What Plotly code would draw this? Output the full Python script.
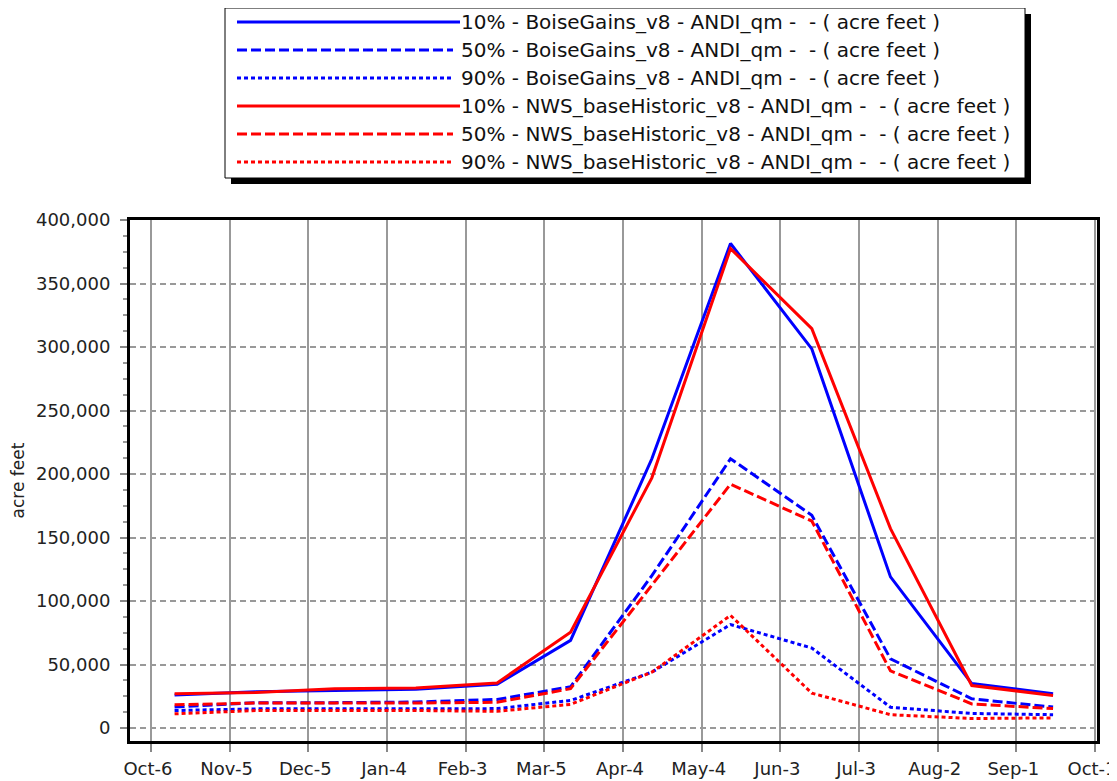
import plotly.graph_objects as go

# ---------------- data ----------------
dates = ["2022-10-15", "2022-11-15", "2022-12-15", "2023-01-15", "2023-02-15", "2023-03-15",
         "2023-04-15", "2023-05-15", "2023-06-15", "2023-07-15", "2023-08-15", "2023-09-15"]

tick_dates = ["2022-10-06", "2022-11-05", "2022-12-05", "2023-01-04", "2023-02-03", "2023-03-05",
              "2023-04-04", "2023-05-04", "2023-06-03", "2023-07-03", "2023-08-02", "2023-09-01",
              "2023-10-01"]
tick_labels = ["Oct-6", "Nov-5", "Dec-5", "Jan-4", "Feb-3", "Mar-5", "Apr-4", "May-4",
               "Jun-3", "Jul-3", "Aug-2", "Sep-1", "Oct-1"]

boise_10 = [26000, 28500, 29500, 30500, 34500, 69000, 212000, 381500, 298500, 119000, 35000, 27000]
boise_50 = [16500, 20000, 20000, 20500, 22500, 32500, 120000, 212000, 167500, 54500, 23000, 16500]
boise_90 = [13800, 15100, 15100, 15100, 15300, 21700, 44000, 81500, 63000, 16400, 11500, 10500]
nws_10 = [27000, 28000, 31000, 31500, 35500, 75500, 197000, 377500, 314500, 157000, 33500, 25700]
nws_50 = [18300, 19700, 19700, 19700, 20300, 31000, 112500, 192000, 163000, 45000, 19000, 15300]
nws_90 = [11200, 13800, 13800, 13800, 13200, 18600, 44000, 88700, 27500, 10500, 7500, 8000]

series_names = [
    "10% - BoiseGains_v8 - ANDI_qm -  - ( acre feet )",
    "50% - BoiseGains_v8 - ANDI_qm -  - ( acre feet )",
    "90% - BoiseGains_v8 - ANDI_qm -  - ( acre feet )",
    "10% - NWS_baseHistoric_v8 - ANDI_qm -  - ( acre feet )",
    "50% - NWS_baseHistoric_v8 - ANDI_qm -  - ( acre feet )",
    "90% - NWS_baseHistoric_v8 - ANDI_qm -  - ( acre feet )",
]
series_values = [boise_10, boise_50, boise_90, nws_10, nws_50, nws_90]
series_colors = ["#0000FF", "#0000FF", "#0000FF", "#FF0000", "#FF0000", "#FF0000"]
series_dash = ["solid", "10px,4px", "4px,3px", "solid", "10px,4px", "4px,3px"]

# page body adds an 8px offset; figure is sized so the window shows it fully
OFF = 8
WIN_W, WIN_H = 1117, 781
W, H = WIN_W - OFF, WIN_H - OFF
PLOT_L, PLOT_R, PLOT_T, PLOT_B = 130, 1097, 220, 741   # window pixel coords
ML, MR, MT, MB = PLOT_L - OFF, WIN_W - PLOT_R, PLOT_T - OFF, WIN_H - PLOT_B
PW, PH = PLOT_R - PLOT_L, PLOT_B - PLOT_T


def px_x(x):
    return (x - PLOT_L) / PW


def px_y(y):
    return (PLOT_B - y) / PH


FONT = "DejaVu Sans"

fig = go.Figure()
for name, vals, col, dash in zip(series_names, series_values, series_colors, series_dash):
    fig.add_trace(go.Scatter(
        x=dates, y=vals, mode="lines", name=name, showlegend=False,
        line=dict(color=col, dash=dash, width=3),
    ))

# ---------------- manual legend ----------------
shapes = []
annotations = []
shapes.append(dict(type="rect", xref="paper", yref="paper",
                   x0=px_x(231), x1=px_x(1031), y0=px_y(184), y1=px_y(14),
                   fillcolor="black", line=dict(color="black", width=0), layer="above"))
shapes.append(dict(type="rect", xref="paper", yref="paper",
                   x0=px_x(225), x1=px_x(1025), y0=px_y(178), y1=px_y(8),
                   fillcolor="white", line=dict(color="black", width=1), layer="above"))
for i, (name, col, dash) in enumerate(zip(series_names, series_colors, series_dash)):
    yy = 22 + 28 * i
    shapes.append(dict(type="line", xref="paper", yref="paper",
                       x0=px_x(237), x1=px_x(460 if dash == "solid" else 453),
                       y0=px_y(yy), y1=px_y(yy),
                       line=dict(color=col, dash=dash, width=3), layer="above"))
    annotations.append(dict(xref="paper", yref="paper", x=px_x(460), y=px_y(yy),
                            xanchor="left", yanchor="middle", text=name, showarrow=False,
                            borderpad=0,
                            font=dict(family=FONT, size=20, color="#111")))

fig.update_layout(
    width=W, height=H,
    margin=dict(l=ML, r=MR, t=MT, b=MB, pad=0, autoexpand=False),
    paper_bgcolor="white", plot_bgcolor="white",
    shapes=shapes, annotations=annotations,
    font=dict(family=FONT, size=18, color="#222"),
    showlegend=False,
)

fig.update_xaxes(
    type="date", automargin=False,
    range=["2022-09-28", "2023-10-01 18:00"],
    tickmode="array", tickvals=tick_dates, ticktext=tick_labels,
    ticks="outside", ticklen=8, tickwidth=1.5, tickcolor="#888",
    ticklabelstandoff=1, ticklabelshift=-3, ticklabeloverflow="allow",
    tickfont=dict(family=FONT, size=18, color="#222"),
    showgrid=True, gridcolor="#999", gridwidth=1.5,
    showline=True, linecolor="black", linewidth=3, mirror=True,
    zeroline=False,
)
fig.update_yaxes(
    automargin=False,
    range=[-10200, 400000],
    tickmode="linear", tick0=0, dtick=50000, tickformat=",d",
    ticks="outside", ticklen=7, tickwidth=1.5, tickcolor="#888",
    ticklabelstandoff=6,
    tickfont=dict(family=FONT, size=18, color="#222"),
    minor=dict(ticks="outside", ticklen=4, tickwidth=1.5, tickcolor="#999", dtick=12500, showgrid=False),
    showgrid=True, gridcolor="#999", gridwidth=2, griddash="6px,4px",
    showline=True, linecolor="black", linewidth=3, mirror=True,
    zeroline=False,
    title=dict(text="acre feet", font=dict(family=FONT, size=17, color="#222"), standoff=10),
)

fig.write_html("out.html")
